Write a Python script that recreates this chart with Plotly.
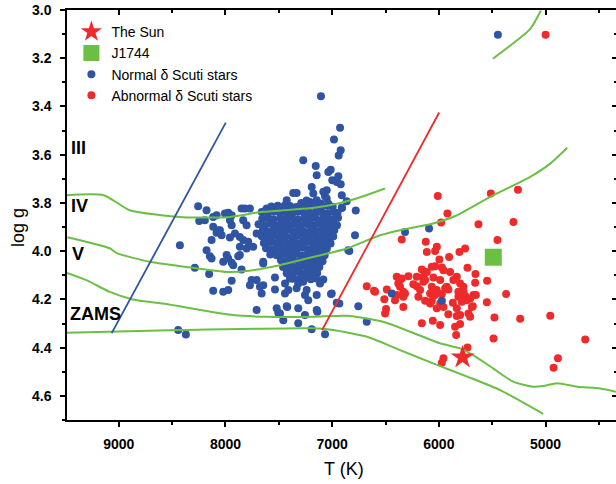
import plotly.graph_objects as go

# ---------------- data ----------------
sun_T = [5778]
sun_g = [4.44]
j1744_T = [5490]
j1744_g = [4.025]

normal_T = [
    5447, 7105, 6926, 6983, 6920, 6939, 7271, 7154, 7145, 7036, 7014, 6999, 6957, 6942, 6920, 6910,
    6864, 6908, 6779, 6786, 6849, 7051, 7192, 7177, 7083, 7067, 7333, 7365, 7208, 7145, 7426, 7442,
    7614, 7630, 7771, 7818, 7051, 7036, 8256, 8177, 8246, 8193, 8115, 8083, 8005, 7974, 7942, 7849,
    8115, 8052, 8068, 8083, 8036, 7958, 7942, 7834, 7802, 7911, 7865, 7834, 7787, 7865, 7802, 7740,
    8130, 7958, 7708, 8427, 8177, 8146, 8130, 8021, 7974, 7942, 7927, 7880, 8287, 8153, 7849, 7942,
    8115, 8021, 7974, 7771, 7755, 7708, 7646, 7677, 7536, 7536, 7646, 7708, 7520, 7505, 7458, 7421,
    8443, 8371, 7661, 7442, 7442, 7411, 7396, 7426, 7333, 7318, 7271, 7255, 7239, 7224, 7145, 7114,
    7083, 7004, 7426, 7318, 7255, 7145, 7318, 7192, 7067, 6957, 6933, 6755, 6676, 6441, 5972, 6839,
    7011, 7139, 6317, 6092, 7489, 7552, 7489, 7411, 7426, 7646, 7989, 7865, 6910,
    # dense core
    7290, 7240, 7110,
    7570, 7510, 7455, 7395, 7335, 7280, 7220, 7160, 7105, 7045, 6995,
    7660, 7600, 7545, 7490, 7430, 7375, 7320, 7265, 7205, 7150, 7095, 7040, 6985, 6950,
    7655, 7605, 7550, 7485, 7435, 7380, 7320, 7260, 7210, 7155, 7090, 7040, 6980, 6945,
    7690, 7630, 7570, 7510, 7455, 7400, 7345, 7290, 7230, 7175, 7120, 7060, 7005, 6955,
    7650, 7600, 7540, 7485, 7430, 7370, 7315, 7260, 7200, 7150, 7095, 7035, 6980,
    7660, 7605, 7545, 7490, 7435, 7375, 7320, 7265, 7205, 7150, 7090, 7040, 6990,
    7640, 7580, 7520, 7465, 7410, 7350, 7295, 7240, 7180, 7125, 7070, 7015,
    7620, 7560, 7500, 7445, 7385, 7330, 7275, 7215, 7160, 7105, 7050,
    7580, 7520, 7465, 7405, 7350, 7290, 7235, 7180, 7120, 7070,
    7480, 7425, 7370, 7310, 7255, 7200, 7140, 7090,
    7460, 7400, 7345, 7290, 7235, 7175, 7120,
    7420, 7365, 7305, 7250, 7195, 7140,
    7370, 7315, 7260, 7200, 7150,
]
normal_g = [
    3.103, 3.358, 3.488, 3.537, 3.582, 3.603, 3.623, 3.647, 3.685, 3.672, 3.662, 3.706, 3.713, 3.689, 3.723, 3.768,
    3.793, 3.821, 3.831, 3.934, 3.996, 3.747, 3.734, 3.761, 3.754, 3.772, 3.759, 3.759, 3.796, 3.789, 3.789, 3.810,
    3.823, 3.833, 3.823, 3.823, 3.782, 3.803, 3.814, 3.830, 3.875, 3.872, 3.858, 3.851, 3.844, 3.841, 3.851, 3.823,
    3.899, 3.913, 3.913, 3.924, 3.934, 3.872, 3.892, 3.872, 3.892, 3.927, 3.941, 3.954, 3.961, 3.982, 3.989, 3.982,
    3.954, 3.943, 3.927, 3.975, 3.996, 4.021, 4.030, 4.044, 4.030, 4.048, 4.058, 4.021, 4.069, 4.095, 4.076, 4.123,
    4.164, 4.168, 4.161, 4.141, 4.120, 4.120, 4.141, 4.148, 4.109, 4.159, 4.051, 4.244, 4.237, 4.255, 4.286, 4.231,
    4.327, 4.345, 4.175, 4.134, 4.175, 4.161, 4.113, 4.092, 4.154, 4.134, 4.127, 4.182, 4.161, 4.203, 4.182, 4.134,
    4.117, 4.175, 4.228, 4.237, 4.265, 4.244, 4.299, 4.324, 4.344, 4.214, 4.217, 4.228, 4.293, 4.175, 4.206, 3.999,
    4.178, 4.251, 3.920, 3.906, 4.258, 3.996, 3.975, 4.024, 4.044, 4.044, 4.016, 4.016, 3.819,
    # dense core
    3.800, 3.790, 3.802,
    3.815, 3.812, 3.818, 3.813, 3.817, 3.811, 3.816, 3.814, 3.819, 3.812, 3.816,
    3.838, 3.843, 3.836, 3.842, 3.839, 3.845, 3.837, 3.841, 3.844, 3.836, 3.840, 3.843, 3.838, 3.842,
    3.866, 3.862, 3.868, 3.863, 3.867, 3.861, 3.869, 3.864, 3.866, 3.862, 3.868, 3.863, 3.867, 3.861,
    3.888, 3.892, 3.887, 3.893, 3.889, 3.891, 3.886, 3.894, 3.888, 3.892, 3.887, 3.891, 3.889, 3.893,
    3.914, 3.918, 3.912, 3.917, 3.913, 3.916, 3.911, 3.919, 3.914, 3.917, 3.912, 3.916, 3.913,
    3.938, 3.942, 3.937, 3.943, 3.939, 3.941, 3.936, 3.942, 3.938, 3.943, 3.937, 3.941, 3.939,
    3.966, 3.962, 3.967, 3.963, 3.968, 3.964, 3.966, 3.962, 3.967, 3.963, 3.965, 3.968,
    3.988, 3.992, 3.987, 3.993, 3.989, 3.991, 3.986, 3.992, 3.988, 3.991, 3.989,
    4.014, 4.017, 4.012, 4.016, 4.013, 4.018, 4.014, 4.016, 4.012, 4.017,
    4.038, 4.042, 4.037, 4.043, 4.039, 4.041, 4.038, 4.042,
    4.066, 4.062, 4.067, 4.063, 4.068, 4.064, 4.066,
    4.088, 4.092, 4.087, 4.093, 4.089, 4.091,
    4.114, 4.117, 4.112, 4.116, 4.113,
]

abnormal_T = [
    5000, 6010, 5513, 5259, 5920, 5979, 5629, 5301, 6348, 6123, 5451, 6019, 6035, 5754, 5807, 5904,
    5995, 6113, 5732, 5657, 5548, 5369, 5550, 5479, 5238, 4956, 6160, 6113, 6066, 6035, 5972, 5957,
    5895, 6395, 6348, 6286, 6207, 6145, 6051, 5988, 6380, 6364, 6239, 6207, 6145, 6066, 5941, 5911,
    5817, 5770, 5660, 5676, 6317, 6333, 6176, 6192, 6082, 6035, 5972, 5817, 5754, 5707, 5653, 6411,
    6333, 6129, 6082, 5988, 5957, 5869, 5785, 5738, 5682, 5911, 5832, 5723, 5707, 6160, 6057, 5988,
    5848, 5801, 6598, 6511, 6504, 6495, 6395, 5838, 5785, 5488, 4628, 5732, 5957, 5972, 4884, 4925,
    6676, 6608, 6488, 6129, 6364, 6333, 6020, 5926, 5864, 5832, 5801, 5770, 5691, 5832, 5801, 6066,
    6020,
]
abnormal_g = [
    3.103, 3.771, 3.761, 3.745, 3.844, 3.881, 3.888, 3.879, 3.952, 3.961, 3.954, 3.982, 3.999, 3.989, 4.003, 4.024,
    4.034, 4.003, 4.069, 4.095, 4.123, 4.178, 4.212, 4.275, 4.280, 4.268, 4.076, 4.086, 4.065, 4.062, 4.068, 4.079,
    4.086, 4.106, 4.113, 4.104, 4.106, 4.106, 4.109, 4.120, 4.134, 4.148, 4.137, 4.145, 4.127, 4.148, 4.154, 4.159,
    4.168, 4.148, 4.131, 4.182, 4.175, 4.189, 4.161, 4.189, 4.175, 4.182, 4.178, 4.189, 4.185, 4.196, 4.182, 4.203,
    4.231, 4.206, 4.217, 4.217, 4.231, 4.214, 4.210, 4.203, 4.228, 4.262, 4.269, 4.258, 4.272, 4.299, 4.288, 4.306,
    4.313, 4.302, 4.168, 4.199, 4.258, 4.240, 4.182, 4.348, 4.175, 4.362, 4.366, 4.399, 4.444, 4.463, 4.444, 4.483,
    4.145, 4.164, 4.159, 4.120, 4.120, 4.168, 4.161, 4.148, 4.120, 4.106, 4.134, 4.168, 4.231, 4.237, 4.265, 4.206,
    4.237,
]

# instability-strip edges
blue_edge_T = [9066, 7997]
blue_edge_g = [4.340, 3.467]
red_edge_T = [7094, 5997]
red_edge_g = [4.327, 3.425]

# luminosity-class / ZAMS curves
iv_T = [9485, 9141, 8897, 8400, 7987, 7649, 7208, 7021, 6805, 6505]
iv_g = [3.768, 3.768, 3.830, 3.859, 3.859, 3.837, 3.822, 3.810, 3.786, 3.740]

v_T = [9481, 9084, 9019, 8709, 8306, 7987, 7799, 7490, 7180, 6861, 6552, 6364, 6054, 5829, 5520, 5144, 4957, 4797]
v_g = [3.942, 3.988, 4.008, 4.044, 4.069, 4.086, 4.082, 4.058, 4.024, 3.989, 3.934, 3.913, 3.885, 3.851, 3.775, 3.692, 3.637, 3.571]

c_T = [9485, 9303, 9084, 8869, 8553, 8240, 7931, 7612, 7180, 6861, 6523, 6270, 5989, 5801, 5679, 5492, 5304, 5116, 5022, 4891, 4704, 4488, 4338]
c_g = [4.090, 4.120, 4.169, 4.200, 4.219, 4.244, 4.265, 4.272, 4.272, 4.268, 4.293, 4.334, 4.382, 4.403, 4.431, 4.486, 4.541, 4.562, 4.559, 4.548, 4.562, 4.569, 4.583]

zams_T = [9485, 8428, 7180, 6992, 6673, 6364, 6054, 5735, 5426, 5022]
zams_g = [4.338, 4.327, 4.320, 4.327, 4.355, 4.410, 4.465, 4.520, 4.576, 4.675]

iii_T = [5494, 5144, 5044]
iii_g = [3.202, 3.078, 3.002]

# ---------------- figure ----------------
GREEN = "#6cbf45"
BLUE = "#2f54a3"
RED = "#ee2a2a"
FONT = "Arial, Liberation Sans, sans-serif"

fig = go.Figure()

fig.add_trace(go.Scatter(x=abnormal_T, y=abnormal_g, mode="markers", name="Abnormal δ Scuti stars",
                         marker=dict(color=RED, size=8, line=dict(width=0)), legendrank=4))
fig.add_trace(go.Scatter(x=normal_T, y=normal_g, mode="markers", name="Normal δ Scuti stars",
                         marker=dict(color=BLUE, size=8, line=dict(width=0)), legendrank=3))

for cx, cy in [(iv_T, iv_g), (v_T, v_g), (c_T, c_g), (zams_T, zams_g), (iii_T, iii_g)]:
    fig.add_trace(go.Scatter(x=cx, y=cy, mode="lines", line=dict(color=GREEN, width=2, shape="spline", smoothing=0.6),
                             showlegend=False, hoverinfo="skip"))
fig.add_trace(go.Scatter(x=blue_edge_T, y=blue_edge_g, mode="lines", line=dict(color=BLUE, width=1.8),
                         showlegend=False))
fig.add_trace(go.Scatter(x=red_edge_T, y=red_edge_g, mode="lines", line=dict(color=RED, width=1.8),
                         showlegend=False))

fig.add_trace(go.Scatter(x=sun_T, y=sun_g, mode="markers", name="The Sun",
                         marker=dict(color=RED, symbol="star", size=18, line=dict(width=0)), legendrank=1))
fig.add_trace(go.Scatter(x=j1744_T, y=j1744_g, mode="markers", name="J1744",
                         marker=dict(color=GREEN, symbol="square", size=17, line=dict(width=0)), legendrank=2))

XR = [9485, 4340]
YR = [4.7, 3.0]
tickfont = dict(family=FONT, size=14, color="black", weight="bold")

fig.update_layout(
    width=616, height=484,
    margin=dict(l=67, r=0, t=10, b=64),
    plot_bgcolor="white", paper_bgcolor="white",
    font=dict(family=FONT, color="black"),
    showlegend=True,
    legend=dict(x=0.008, y=0.985, xanchor="left", yanchor="top", bgcolor="rgba(0,0,0,0)",
                font=dict(family=FONT, size=14, color="black"), tracegroupgap=0, itemwidth=30),
    xaxis=dict(range=XR, autorange=False, showgrid=False, zeroline=False, showline=True, linecolor="black",
               linewidth=1.5, ticks="outside", ticklen=5, tickwidth=1.5, tickcolor="black", dtick=1000, tick0=5000,
               tickfont=tickfont, ticklabelstandoff=5,
               minor=dict(ticks="outside", ticklen=3, tickwidth=1.5, tickcolor="black", dtick=500, tick0=5000)),
    yaxis=dict(range=YR, autorange=False, showgrid=False, zeroline=False, showline=True, linecolor="black",
               linewidth=1.5, ticks="outside", ticklen=5, tickwidth=1.5, tickcolor="black", dtick=0.2, tick0=3.0,
               tickformat=".1f", tickfont=tickfont, ticklabelstandoff=6,
               minor=dict(ticks="outside", ticklen=3, tickwidth=1.5, tickcolor="black", dtick=0.1, tick0=3.0)),
    xaxis2=dict(range=XR, autorange=False, overlaying="x", side="top", anchor="y", showgrid=False, zeroline=False,
                showline=True, linecolor="black", linewidth=1.5, ticks="inside", ticklen=5, tickwidth=1.5,
                tickcolor="black", dtick=1000, tick0=5000, showticklabels=False,
                minor=dict(ticks="inside", ticklen=3, tickwidth=1.5, tickcolor="black", dtick=500, tick0=5000)),
    yaxis2=dict(range=YR, autorange=False, overlaying="y", side="right", anchor="x", showgrid=False, zeroline=False,
                showline=False, ticks="inside", ticklen=4, tickwidth=1.5, tickcolor="black", dtick=0.2, tick0=3.0,
                showticklabels=False,
                minor=dict(ticks="inside", ticklen=2, tickwidth=1.5, tickcolor="black", dtick=0.1, tick0=3.0)),
)
# invisible trace to activate the mirror axes
fig.add_trace(go.Scatter(x=[XR[0]], y=[YR[0]], xaxis="x2", yaxis="y2", mode="markers",
                         marker=dict(opacity=0), showlegend=False, hoverinfo="skip"))

W = 549.0
H = 410.0
def px(x):
    return (x - 67.0) / W
def py(y):
    return 1 - (y - 10.0) / H

labels = [("III", 69, 148), ("IV", 69, 206), ("V", 70, 254), ("ZAMS", 68, 314)]
for txt, lx, ly in labels:
    fig.add_annotation(text=txt, x=px(lx), y=py(ly), xref="paper", yref="paper", xanchor="left",
                       yanchor="middle", showarrow=False,
                       font=dict(family=FONT, size=18, color="black", weight="bold"))

fig.add_annotation(text="T (K)", x=px(344), y=py(469), xref="paper", yref="paper", showarrow=False,
                   xanchor="center", yanchor="middle",
                   font=dict(family=FONT, size=18, color="black"))
fig.add_annotation(text="log g", x=px(18), y=py(228), xref="paper", yref="paper", showarrow=False,
                   xanchor="center", yanchor="middle",
                   textangle=-90, font=dict(family=FONT, size=18, color="black"))

fig.write_html("out.html")
